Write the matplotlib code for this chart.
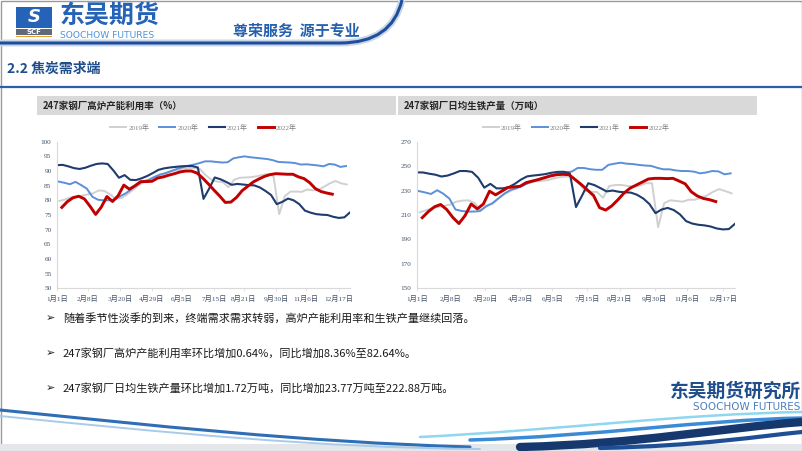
import numpy as np
import pandas as pd
import matplotlib.pyplot as plt
from matplotlib.path import Path
from matplotlib.patches import PathPatch, Rectangle

plt.rcParams['font.family'] = ['Noto Sans CJK SC', 'DejaVu Sans']

# weekly data (first Friday of each year)
years = ['2019年', '2020年', '2021年', '2022年']
first_week = ['2019-01-04', '2020-01-03', '2021-01-01', '2022-01-07']
colors = ['#d0d0d0', '#5b8fd9', '#1f3c6e', '#c00000']
widths = [1.4, 1.4, 1.5, 2.1]

# 247家钢厂高炉产能利用率 (%)
util_2019 = [79.8, 80.3, 81.0, 81.2, 81.6, 82.0, 82.4, 83.4, 83.2, 82.0,
             80.5, 80.8, 82.0, 83.5, 85.0, 86.2, 86.6, 87.5, 88.5, 89.3,
             90.0, 90.4, 90.8, 91.0, 91.0, 90.6, 88.5, 87.0, 86.4, 86.2,
             84.5, 87.0, 87.7, 87.8, 87.9, 88.2, 88.6, 89.0, 88.2, 75.3,
             81.4, 83.0, 83.0, 82.9, 83.7, 83.4, 83.6, 84.7, 85.8, 86.6,
             85.8, 85.4]
util_2020 = [86.4, 86.0, 85.5, 86.3, 85.2, 84.0, 81.2, 80.2, 80.0, 80.0,
             80.3, 81.5, 82.5, 84.0, 85.3, 86.5, 87.0, 88.0, 88.8, 89.3,
             90.0, 90.7, 91.3, 91.8, 92.2, 92.7, 93.3, 93.3, 93.1, 92.9,
             93.0, 94.3, 94.7, 95.0, 94.7, 94.5, 94.3, 94.1, 93.7, 93.1,
             93.0, 92.9, 92.7, 92.2, 92.3, 92.1, 91.9, 91.6, 92.4, 92.2,
             91.4, 91.7]
util_2021 = [92.0, 92.1, 91.6, 91.0, 90.7, 91.1, 91.8, 92.4, 92.6, 92.4,
             90.2, 87.7, 88.6, 87.0, 86.9, 87.5, 88.3, 89.3, 90.4, 90.9,
             91.2, 91.4, 91.6, 91.7, 91.7, 91.2, 80.5, 84.0, 87.8, 87.2,
             86.3, 85.3, 85.6, 85.4, 85.2, 85.1, 84.4, 83.2, 81.8, 78.7,
             79.5, 80.6, 80.0, 78.7, 76.5, 75.8, 75.3, 75.1, 75.0, 74.4,
             74.0, 74.2, 75.9]
util_2022 = [77.6, 79.6, 80.9, 81.4, 80.5, 78.0, 75.2, 77.7, 81.3, 79.6,
             81.6, 85.2, 83.8, 85.0, 86.4, 86.4, 86.5, 87.6, 88.0, 88.6,
             89.1, 89.7, 90.0, 90.0, 89.3, 87.6, 85.6, 83.5, 81.5, 79.3,
             79.4, 81.0, 83.3, 84.8, 86.3, 87.3, 88.2, 88.8, 89.1, 89.0,
             88.9, 88.9, 88.0, 87.4, 86.0, 84.0, 83.0, 82.5, 82.1]

# 247家钢厂日均生铁产量 (万吨)
iron_2019 = [212.2, 213.8, 215.5, 216.5, 217.5, 218.5, 220.9, 221.8, 222.0, 219.8,
             213.8, 218.0, 219.5, 224.0, 227.5, 230.0, 232.0, 235.0, 236.5, 237.5,
             238.0, 238.6, 240.0, 241.0, 241.5, 241.0, 236.0, 230.0, 229.0, 228.8,
             224.0, 233.7, 234.5, 234.6, 233.8, 233.2, 234.0, 236.0, 236.0, 200.0,
             219.8, 222.0, 221.5, 220.9, 222.5, 222.5, 224.0, 226.0, 229.0, 231.2,
             229.5, 227.8]
iron_2020 = [229.6, 228.5, 227.2, 230.3, 227.5, 223.5, 214.5, 213.3, 212.8, 212.8,
             213.2, 217.0, 219.5, 223.5, 227.5, 230.5, 232.0, 234.0, 236.3, 238.2,
             240.0, 241.5, 243.0, 244.0, 245.0, 245.5, 248.5, 248.5, 247.5, 247.0,
             247.0, 251.0, 252.0, 252.8, 252.0, 251.7, 251.0, 250.5, 250.2, 248.6,
             247.4, 247.4, 246.5, 246.0, 246.0, 245.5, 244.1, 244.8, 246.0, 245.7,
             243.3, 244.1]
iron_2021 = [244.9, 244.8, 243.8, 243.0, 241.5, 242.3, 244.0, 246.0, 246.0, 245.3,
             240.5, 232.4, 235.5, 231.8, 231.8, 232.8, 235.5, 239.0, 241.6, 242.3,
             242.8, 243.5, 244.6, 245.3, 245.4, 244.0, 216.5, 226.0, 236.0, 234.5,
             232.0, 229.3, 230.0, 229.0, 228.6, 228.3, 226.5, 223.5, 219.0, 211.5,
             214.5, 215.8, 214.0, 210.5, 205.0, 203.0, 202.0, 201.5, 200.6, 199.0,
             198.2, 198.5, 202.8]
iron_2022 = [207.8, 212.8, 216.7, 218.6, 214.5, 208.0, 203.0, 209.5, 219.0, 215.0,
             219.0, 229.5, 226.5, 229.5, 232.5, 233.0, 233.5, 236.5, 237.8, 239.0,
             240.5, 242.0, 243.0, 243.3, 243.0, 239.0, 235.0, 230.5, 226.0, 216.0,
             214.0, 217.5, 222.5, 228.0, 232.0, 234.5, 237.0, 239.5, 240.0, 240.0,
             239.8, 240.0, 237.8, 235.5, 229.0, 225.5, 223.5, 222.5, 221.0]

tick_dates = ['2021-01-01', '2021-02-08', '2021-03-20', '2021-04-29', '2021-06-05',
              '2021-07-15', '2021-08-21', '2021-09-30', '2021-11-06', '2021-12-17']
tick_labels = ['1月1日', '2月8日', '3月20日', '4月29日', '6月5日',
               '7月15日', '8月21日', '9月30日', '11月6日', '12月17日']

bullets = ['随着季节性淡季的到来，终端需求需求转弱，高炉产能利用率和生铁产量继续回落。',
           '247家钢厂高炉产能利用率环比增加0.64%，同比增加8.36%至82.64%。',
           '247家钢厂日均生铁产量环比增加1.72万吨，同比增加23.77万吨至222.88万吨。']

W, H = 802, 451
fig = plt.figure(figsize=(W / 100, H / 100), dpi=100)
bg = fig.add_axes([0, 0, 1, 1])
bg.set_xlim(0, W)
bg.set_ylim(H, 0)
bg.axis('off')

serif = ['Liberation Serif', 'Noto Sans CJK SC']


def fx(px):
    return px / W


def fy(py):
    return 1 - py / H


def draw_chart(left, right, series, ylim, yticks, title, bar):
    # grey title strip
    bg.add_patch(Rectangle((bar[0], 96), bar[1] - bar[0], 19, color='#d9d9d9', lw=0))
    bg.text(bar[0] + 6, 105.5, title, fontsize=6.8, fontweight='bold',
            color='#262626', va='center', ha='left')
    top, bottom = 141.7, 288.3
    ax = fig.add_axes([fx(left), fy(bottom), fx(right - left), (bottom - top) / H])
    for name, start, vals, c, lw in zip(years, first_week, series, colors, widths):
        x = pd.date_range(start, periods=len(vals), freq='7D').dayofyear - 1
        ax.plot(x, vals, color=c, lw=lw, label=name, solid_joinstyle='round')
    ax.set_xlim(0, 364)
    ax.set_ylim(*ylim)
    ax.set_yticks(yticks)
    ax.set_xticks(pd.to_datetime(tick_dates).dayofyear - 1)
    ax.set_xticklabels(tick_labels)
    for lab in ax.get_xticklabels() + ax.get_yticklabels():
        lab.set_fontfamily(serif)
        lab.set_fontsize(5.2)
        lab.set_color('#44546a')
    ax.tick_params(axis='y', length=0, pad=4)
    ax.tick_params(axis='x', length=2, width=0.5, color='#d9d9d9', pad=3)
    for s in ['top', 'right']:
        ax.spines[s].set_visible(False)
    for s in ['left', 'bottom']:
        ax.spines[s].set_color('#d9d9d9')
        ax.spines[s].set_linewidth(0.8)
    leg = ax.legend(loc='center', bbox_to_anchor=(0.5, 1.10), ncol=4, frameon=False,
                    prop={'family': serif, 'size': 5}, handlelength=2.3,
                    handletextpad=0.3, columnspacing=1.45)
    for t in leg.get_texts():
        t.set_color('#7f7f7f')
    return ax


draw_chart(57, 350, [util_2019, util_2020, util_2021, util_2022], (50, 100),
           range(50, 101, 5), '247家钢厂高炉产能利用率（%）', (37, 396))
draw_chart(417, 735, [iron_2019, iron_2020, iron_2021, iron_2022], (150, 270),
           range(150, 271, 20), '247家钢厂日均生铁产量（万吨）', (398, 757))

# ---- slide decoration ----
bg.add_patch(Rectangle((0.5, 0.5), W - 1, H - 1, fill=False, ec='#9a9a9a', lw=1))

# logo
bg.add_patch(Rectangle((16, 7), 36, 21, color='#2563b8', lw=0))
bg.text(34, 17.5, 'S', fontsize=13, fontweight='bold', style='italic', color='white',
        ha='center', va='center', family='DejaVu Sans')
bg.add_patch(Rectangle((16, 29), 36, 6, color='#5f6b7a', lw=0))
bg.text(34, 32, 'SCF', fontsize=5, fontweight='bold', color='white', ha='center',
        va='center', family='DejaVu Sans')
bg.add_patch(Rectangle((16, 35.5), 36, 1.5, color='#f0a030', lw=0))
bg.text(60, 15.5, '东吴期货', fontsize=18, fontweight='bold', color='#2563b8',
        ha='left', va='center')
bg.text(60, 35, 'SOOCHOW FUTURES', fontsize=6.6, color='#4f93dc', ha='left',
        va='center', family='DejaVu Sans')
bg.text(233, 31, '尊荣服务  源于专业', fontsize=10.8, fontweight='bold',
        color='#2360b0', ha='left', va='center')

# header curve
hp = Path([(0, 43), (340, 43), (392, 43), (402, 0)],
          [Path.MOVETO, Path.LINETO, Path.CURVE3, Path.CURVE3])
bg.add_patch(PathPatch(hp, fill=False, ec='#c9d6e8', lw=5, capstyle='butt'))
bg.add_patch(PathPatch(hp, fill=False, ec='#1f4e9c', lw=2.2, capstyle='butt'))

# section title
bg.text(7, 69, '2.2 焦炭需求端', fontsize=10, fontweight='bold', color='#1f4e8c',
        ha='left', va='center')
bg.plot([0, W], [87, 87], color='#2a5fae', lw=1.6)

# bullets
for i, line in enumerate(bullets):
    yy = 318 + 35 * i
    bg.text(46, yy, '➢', fontsize=8, color='#1a1a1a', ha='left', va='center',
            family='DejaVu Sans')
    bg.text(63, yy, line, fontsize=8, color='#1a1a1a', ha='left', va='center')


# bottom swoosh
def swoosh(pts, color, lw, alpha=1.0):
    p = Path(pts, [Path.MOVETO] + [Path.CURVE4] * (len(pts) - 1))
    bg.add_patch(PathPatch(p, fill=False, ec=color, lw=lw, alpha=alpha,
                           capstyle='round'))


bg.add_patch(Rectangle((0, 444), W, 7, color='#e4e6ea', lw=0))
swoosh([(0, 410), (150, 425), (300, 442), (470, 447)], '#2f6db5', 2.2)
swoosh([(0, 416), (160, 432), (320, 448), (480, 449)], '#a9cbe9', 1.4)
swoosh([(420, 437), (560, 430), (680, 414), (802, 412)], '#8fd6f0', 1.8)
swoosh([(470, 440), (600, 436), (700, 420), (802, 418)], '#3a8ad6', 2.5)
swoosh([(520, 447), (640, 444), (720, 428), (802, 422)], '#16386e', 6)
swoosh([(600, 448), (700, 446), (760, 436), (802, 432)], '#1e4f96', 3)

# bottom-right logo
bg.text(801, 391, '东吴期货研究所', fontsize=13.5, fontweight='bold', color='#1f4e8c',
        ha='right', va='center')
bg.text(800, 406.5, 'SOOCHOW FUTURES', fontsize=7.5, color='#4f7fbf', ha='right',
        va='center', family='DejaVu Sans')

fig.savefig('out.png', dpi=100)
